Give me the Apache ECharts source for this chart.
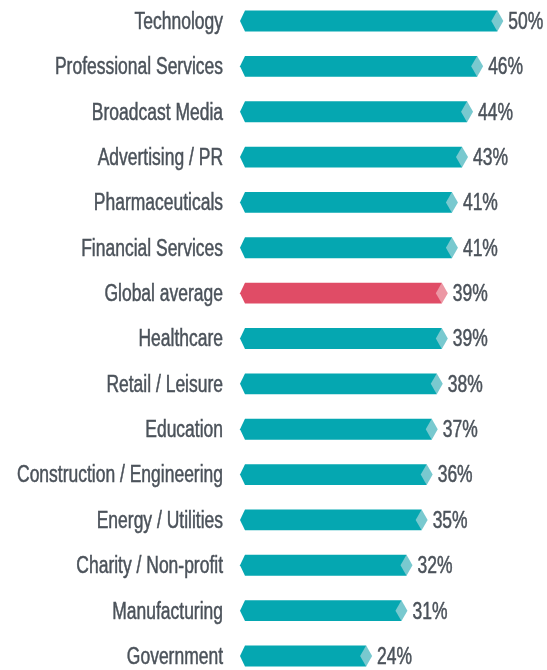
<!DOCTYPE html>
<html>
<head>
<meta charset="utf-8">
<script src="https://cdn.jsdelivr.net/npm/echarts@6/dist/echarts.min.js"></script>
<style>
  html, body { margin: 0; padding: 0; background: #fff; }
  #chart { width: 547px; height: 670px; }
</style>
</head>
<body>
<div id="chart"></div>
<script>
const categories = [
  'Technology', 'Professional Services', 'Broadcast Media', 'Advertising / PR',
  'Pharmaceuticals', 'Financial Services', 'Global average', 'Healthcare',
  'Retail / Leisure', 'Education', 'Construction / Engineering', 'Energy / Utilities',
  'Charity / Non-profit', 'Manufacturing', 'Government'
];
const values = [50, 46, 44, 43, 41, 41, 39, 39, 38, 37, 36, 35, 32, 31, 24];
const highlighted = 'Global average';

const chart = echarts.init(document.getElementById('chart'));
// no condensed font installed, so squeeze a regular one horizontally
const FONT = '23px "Liberation Sans", Arial, sans-serif';
const SQUEEZE = 0.76;
const TEXT = '#4b525a';

function label(x, y, text, align) {
  return {
    type: 'text', x: x, y: y + 1.5, scaleX: SQUEEZE,
    style: {
      x: 0, y: 0, text: text, fill: TEXT, font: FONT,
      stroke: TEXT, lineWidth: 0.5,
      align: align, verticalAlign: 'middle'
    }
  };
}

function renderBar(params, api) {
  const v = api.value(0);
  const idx = api.value(1);
  const start = api.coord([0, idx]);
  const end = api.coord([v, idx]);
  const h = api.size([0, 1])[1] * 0.46;
  const y = start[1];
  const x0 = start[0], x1 = end[0];
  const hot = categories[idx] === highlighted;
  const dark = hot ? '#e04c66' : '#05a7b1';
  const light = hot ? '#ec97a4' : '#79c9cf';
  return {
    type: 'group',
    children: [
      {
        type: 'polygon',
        shape: { points: [[x0 - 5, y], [x0, y - h / 2], [x1, y - h / 2], [x1, y + h / 2], [x0, y + h / 2]] },
        style: { fill: dark }
      },
      {
        type: 'polygon',
        shape: { points: [[x1 - 6, y], [x1, y - h / 2], [x1 + 6, y], [x1, y + h / 2]] },
        style: { fill: light }
      },
      label(x0 - 22, y, categories[idx], 'right'),
      label(x1 + 11, y, v + '%', 'left')
    ]
  };
}

chart.setOption({
  animation: false,
  grid: { left: 245, top: -1.7, width: 302.8, height: 680.4, containLabel: false, outerBoundsMode: 'none' },
  xAxis: { type: 'value', min: 0, max: 60, show: false },
  yAxis: {
    type: 'category',
    inverse: true,
    data: categories,
    axisLine: { show: false },
    axisTick: { show: false },
    axisLabel: { show: false }
  },
  series: [{
    type: 'custom',
    renderItem: renderBar,
    encode: { x: 0, y: 1 },
    data: values.map((v, i) => [v, i])
  }]
});
</script>
</body>
</html>
